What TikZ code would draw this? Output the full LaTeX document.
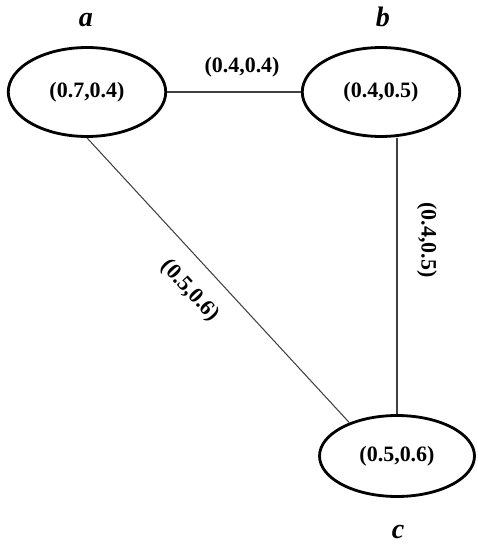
\documentclass[tikz,border=0pt]{standalone}
\usepackage{fontspec}
\setmainfont{Liberation Serif}
\usetikzlibrary{shapes.geometric}
\begin{document}
\begin{tikzpicture}[
            x=0.02cm, y=-0.02cm,
            vert-node/.style={ellipse,draw=black,line width=1.6pt,minimum width=3.15cm,minimum height=1.78cm,inner sep=0pt,font=\fontsize{12.5}{14}\selectfont\bfseries},
            name-label/.style={anchor=base,inner sep=0pt,font=\fontsize{16}{18}\selectfont\bfseries\itshape},
            edge-line/.style={draw=black!75,line width=0.6pt},
            edge-label/.style={inner sep=1pt,font=\fontsize{12.5}{14}\selectfont\bfseries},
        ]
            \useasboundingbox (0,0) rectangle (477,544);
            \node[vert-node] (a) at (87,92) {(0.7,0.4)};
            \node[vert-node] (b) at (381,92) {(0.4,0.5)};
            \node[vert-node,minimum width=3.1cm,minimum height=1.62cm] (c) at (397,456) {(0.5,0.6)};
            \node[name-label] (a-name) at (86,27) {a};
            \node[name-label] (b-name) at (383,27) {b};
            \node[name-label] (c-name) at (398,538) {c};
            \draw[edge-line] (a) -- (b) node[edge-label,pos=0.56,above=7pt] (ab) {(0.4,0.4)};
            \draw[edge-line] (b.south -| c.north) -- (c.north) node[edge-label,pos=0.37,sloped,above=10pt] (bc) {(0.4,0.5)};
            \draw[edge-line] (a.south) -- (c.145) node[edge-label,pos=0.47,sloped,below=9pt] (ac) {(0.5,0.6)};
        \end{tikzpicture}
\end{document}
